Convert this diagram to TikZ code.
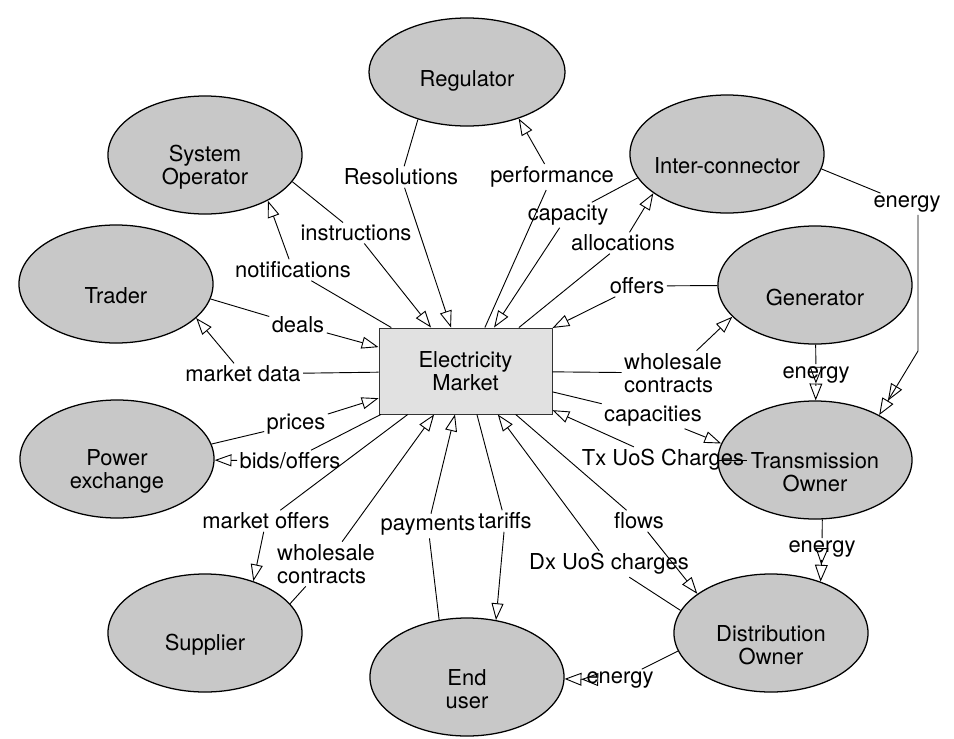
\documentclass[tikz,border=0pt]{standalone}
\usepackage{fontspec}
\setmainfont{TeX Gyre Heros}
\usetikzlibrary{arrows.meta,shapes.geometric}
\definecolor{entgray}{RGB}{200,200,200}
\definecolor{hubgray}{RGB}{225,225,225}

\begin{document}
\begin{tikzpicture}
[x=0.025cm,y=-0.025cm
,line width=0.65pt
,font=\fontsize{15.6}{16.5}\selectfont
,ent/.style={ellipse,draw,line width=0.9pt,fill=entgray,minimum width=4.85cm,minimum height=2.95cm,inner sep=0pt}
,etext/.style={align=center,yshift=-0.3cm}
,hub/.style={rectangle,draw=black!80,fill=hubgray,minimum width=4.325cm,minimum height=2.15cm,align=center}
,elab/.style={inner sep=1.5pt,align=center}
,arr/.style={-{Triangle[open,length=0.42cm,width=0.3cm]}}
,dbl/.style={-{Triangle[open,length=0.42cm,width=0.32cm]Triangle[open,length=0.42cm,width=0.32cm]}}
]

\useasboundingbox (0,0) rectangle (954,738);

\node[hub] (mkt) at (465.5,371) {Electricity\\Market};

\node[ent,minimum width=4.9cm,minimum height=2.7cm,label={[align=center,yshift=-0.22cm]center:Regulator}] (reg) at (467,72) {};
\node[ent,label={[etext]center:System\\Operator}]     (so)  at (205,155) {};
\node[ent,label={[etext]center:Inter-connector}]      (ic)  at (727,154) {};
\node[ent,label={[etext]center:Trader}]               (trd) at (116,284) {};
\node[ent,label={[etext]center:Generator}]            (gen) at (815,285) {};
\node[ent,label={[etext]center:Power\\exchange}]      (px)  at (117,459) {};
\node[ent,label={[etext]center:Transmission\\Owner}]  (tro) at (815,460) {};
\node[ent,label={[etext]center:Supplier}]             (sup) at (205,633) {};
\node[ent,label={[etext]center:End\\user}]            (eus) at (467,677) {};
\node[ent,label={[etext]center:Distribution\\Owner}]  (dio) at (771,633) {};

\node[elab] (lres)   at (401,177) {Resolutions};
\node[elab] (lperf)  at (552,177) {performance};
\node[elab] (linstr) at (356,233) {instructions};
\node[elab] (lnotif) at (293,270) {notifications};
\node[elab] (lcap)   at (568,215) {capacity};
\node[elab] (lalloc) at (623,243) {allocations};
\node[elab] (loff)   at (637,286) {offers};
\node[elab] (ldeals) at (298,325) {deals};
\node[elab] (lmdata) at (243,374) {market data};
\node[elab] (lprice) at (296,424) {prices};
\node[elab] (lbids)  at (290,461) {bids/offers};
\node[elab] (lmoff)  at (266,521) {market offers};
\node[elab,align=left] (lwcs) at (326,564) {wholesale\\contracts};
\node[elab] (lpay)   at (428,526) {payments};
\node[elab] (ltar)   at (505,521) {tariffs};
\node[elab] (ldx)    at (609,564) {Dx UoS charges};
\node[elab] (lflow)  at (639,521) {flows};
\node[elab] (ltx)    at (663,460) {Tx UoS Charges};
\node[elab] (lcaps)  at (653,416) {capacities};
\node[elab,align=left] (lwcg) at (673,373) {wholesale\\contracts};
\node[elab] (len1)   at (816,375) {energy};
\node[elab] (len2)   at (822,549) {energy};
\node[elab] (len3)   at (620,680) {energy};
\node[elab] (len4)   at (907,204) {energy};
\coordinate (icb) at (918,351);

\draw (reg.224) -- (lres);   \draw[arr] (lres) -- (mkt);
\draw (mkt) -- (lperf);      \draw[arr] (lperf) -- (reg.318);
\draw (so.343) -- (linstr);  \draw[arr] (linstr) -- (mkt);
\draw (mkt) -- (lnotif);     \draw[arr] (lnotif) -- (so.324);
\draw (ic.195) -- (lcap);    \draw[arr] (lcap) -- (mkt);
\draw (mkt) -- (lalloc);     \draw[arr] (lalloc) -- (ic.208);
\draw (gen) -- (loff);       \draw[arr] (loff) -- (mkt);
\draw (trd.351) -- (ldeals); \draw[arr] (ldeals) -- (mkt);
\draw (mkt) -- (lmdata);     \draw[arr] (lmdata) -- (trd.337);
\draw (px.9) -- (lprice);    \draw[arr] (lprice) -- (mkt);
\draw (mkt) -- (lbids);      \draw[arr] (lbids) -- (px);
\draw (mkt) -- (lmoff);      \draw[arr] (lmoff) -- (sup.47);
\draw (sup.19) -- (lwcs);    \draw[arr] (lwcs) -- (mkt);
\draw (eus.116) -- (lpay);   \draw[arr] (lpay) -- (mkt);
\draw (mkt) -- (ltar);       \draw[arr] (ltar) -- (eus.63);
\draw (dio.166) -- (ldx);    \draw[arr] (ldx) -- (mkt);
\draw (mkt) -- (lflow);      \draw[arr] (lflow) -- (dio.152);
\draw (tro) -- (ltx);        \draw[arr] (ltx) -- (mkt);
\draw (mkt) -- (lcaps);      \draw[arr] (lcaps) -- (tro.170);
\draw (mkt) -- (lwcg);       \draw[arr] (lwcg) -- (gen.201);

\draw (gen) -- (len1);       \draw[dbl] (len1) -- (tro);
\draw (ic.351) -- (len4);    \draw[dbl] (len4.south -| icb) -- (icb) -- (tro.35);
\draw (tro.277) -- (len2);   \draw[dbl] (len2) -- (dio.46);
\draw (dio.191) -- (len3);   \draw[dbl] (len3) -- (eus);

\end{tikzpicture}
\end{document}
